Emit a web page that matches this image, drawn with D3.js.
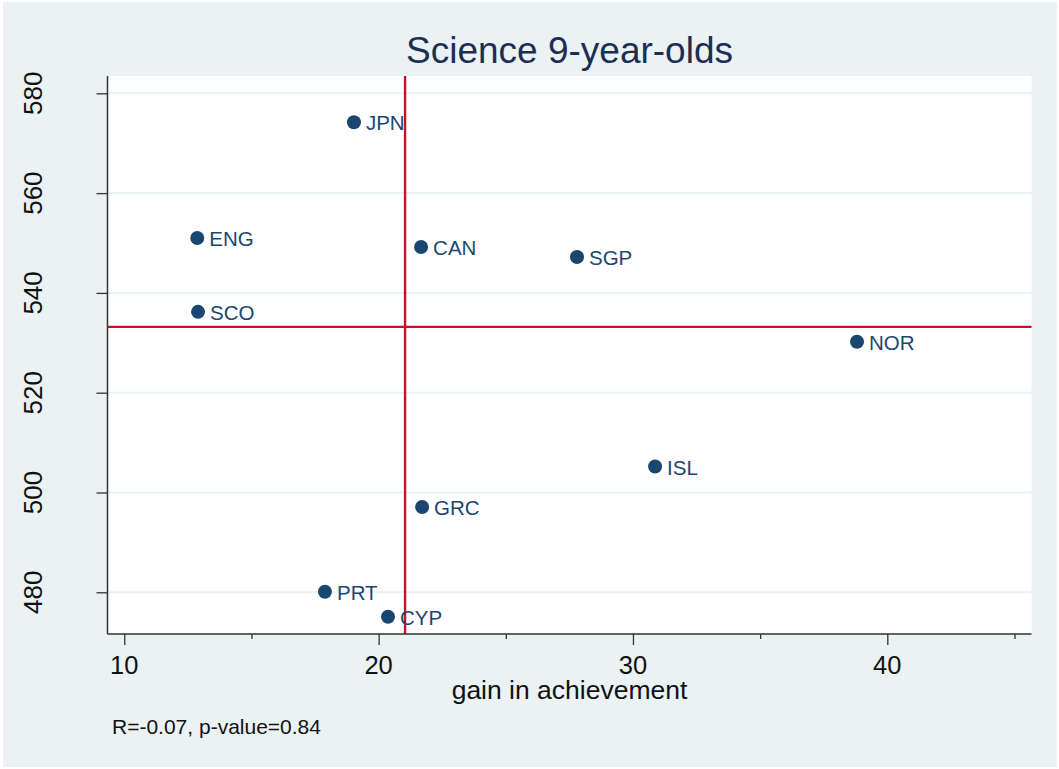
<!DOCTYPE html>
<html>
<head>
<meta charset="utf-8">
<script src="https://cdn.jsdelivr.net/npm/d3@7"></script>
<style>
  html, body { margin: 0; padding: 0; background: #ffffff; }
  svg { display: block; font-family: "Liberation Sans", Arial, Helvetica, sans-serif; }
</style>
</head>
<body>
<svg id="chart" width="1059" height="769"></svg>
<script>
// Country codes and their values
const countries = ["JPN", "ENG", "CAN", "SGP", "SCO", "NOR", "ISL", "GRC", "PRT", "CYP"];
const gain      = [19.03, 12.87, 21.67, 27.80, 12.90, 38.81, 30.87, 21.71, 17.89, 20.37];
const score     = [574.2, 551.0, 549.2, 547.2, 536.2, 530.2, 505.2, 497.1, 480.1, 475.1];

// Reference lines (x and y averages)
const refGain = 21.04;
const refScore = 533.2;

// Axis ticks
const xMajorTicks = [10, 20, 30, 40];
const xMinorTicks = [15, 25, 35, 45];
const yTicks = [480, 500, 520, 540, 560, 580];

const titleText = "Science 9-year-olds";
const xTitle = "gain in achievement";
const noteText = "R=-0.07, p-value=0.84";

const svg = d3.select("#chart");
const W = 1059, H = 769;

const plot = { left: 107.5, right: 1031.5, top: 76, bottom: 634 };

const x = d3.scaleLinear().domain([9.34, 45.67]).range([plot.left, plot.right]);
const y = d3.scaleLinear().domain([471.64, 583.47]).range([plot.bottom, plot.top]);

const navy = "#1a476f";
const red = "#c8102e";
const bg = "#eaf2f3";

// Outer graph region
svg.append("rect").attr("x", 3).attr("y", 2).attr("width", W - 5).attr("height", H - 4).attr("fill", bg);

// Plot region
svg.append("rect")
  .attr("x", plot.left).attr("y", plot.top)
  .attr("width", plot.right - plot.left).attr("height", plot.bottom - plot.top)
  .attr("fill", "#ffffff");

// Horizontal gridlines
svg.append("g").selectAll("line").data(yTicks).join("line")
  .attr("x1", plot.left).attr("x2", plot.right)
  .attr("y1", d => y(d)).attr("y2", d => y(d))
  .attr("stroke", bg).attr("stroke-width", 2);

// Reference lines
svg.append("line")
  .attr("x1", x(refGain)).attr("x2", x(refGain))
  .attr("y1", plot.top).attr("y2", plot.bottom)
  .attr("stroke", red).attr("stroke-width", 2.4);
svg.append("line")
  .attr("x1", plot.left).attr("x2", plot.right)
  .attr("y1", y(refScore)).attr("y2", y(refScore))
  .attr("stroke", red).attr("stroke-width", 2.4);

// Y axis
const yAxis = svg.append("g").attr("transform", `translate(${plot.left},0)`)
  .call(d3.axisLeft(y).tickValues(yTicks).tickSize(11).tickPadding(0).tickFormat(""));
yAxis.select(".domain").attr("stroke", "#333").attr("stroke-width", 1.5)
  .attr("d", `M0,${plot.top}V${plot.bottom}`);
yAxis.selectAll(".tick line").attr("stroke", "#333").attr("stroke-width", 1.3);

svg.append("g").selectAll("text").data(yTicks).join("text")
  .attr("transform", d => `translate(42,${y(d)}) rotate(-90)`)
  .attr("text-anchor", "middle")
  .attr("font-size", 26)
  .attr("fill", "#111")
  .text(d => d);

// X axis
const xAxis = svg.append("g").attr("transform", `translate(0,${plot.bottom})`)
  .call(d3.axisBottom(x).tickValues(xMajorTicks).tickSize(11).tickFormat(""));
xAxis.select(".domain").attr("stroke", "#333").attr("stroke-width", 1.5)
  .attr("d", `M${plot.left},0H${plot.right}`);
xAxis.selectAll(".tick line").attr("stroke", "#333").attr("stroke-width", 1.3);

const xMinor = svg.append("g").attr("transform", `translate(0,${plot.bottom})`)
  .call(d3.axisBottom(x).tickValues(xMinorTicks).tickSize(5).tickFormat(""));
xMinor.select(".domain").remove();
xMinor.selectAll(".tick line").attr("stroke", "#333").attr("stroke-width", 1.3);

svg.append("g").selectAll("text").data(xMajorTicks).join("text")
  .attr("x", d => x(d)).attr("y", 674)
  .attr("text-anchor", "middle")
  .attr("font-size", 25.5)
  .attr("fill", "#111")
  .text(d => d);

// Axis title
svg.append("text")
  .attr("x", (plot.left + plot.right) / 2).attr("y", 699)
  .attr("text-anchor", "middle")
  .attr("font-size", 26.5)
  .attr("fill", "#111")
  .text(xTitle);

// Title
svg.append("text")
  .attr("x", (plot.left + plot.right) / 2).attr("y", 63)
  .attr("text-anchor", "middle")
  .attr("font-size", 37)
  .attr("fill", "#1e2d53")
  .text(titleText);

// Note
svg.append("text")
  .attr("x", 112).attr("y", 734)
  .attr("font-size", 21)
  .attr("fill", "#111")
  .text(noteText);

// Points and labels
const data = countries.map((c, i) => ({ c, g: gain[i], s: score[i] }));
const pts = svg.append("g");
pts.selectAll("circle").data(data).join("circle")
  .attr("cx", d => x(d.g)).attr("cy", d => y(d.s))
  .attr("r", 7).attr("fill", navy);
pts.selectAll("text").data(data).join("text")
  .attr("x", d => x(d.g) + 12).attr("y", d => y(d.s) + 8)
  .attr("font-size", 20.5)
  .attr("fill", navy)
  .text(d => d.c);
</script>
</body>
</html>
